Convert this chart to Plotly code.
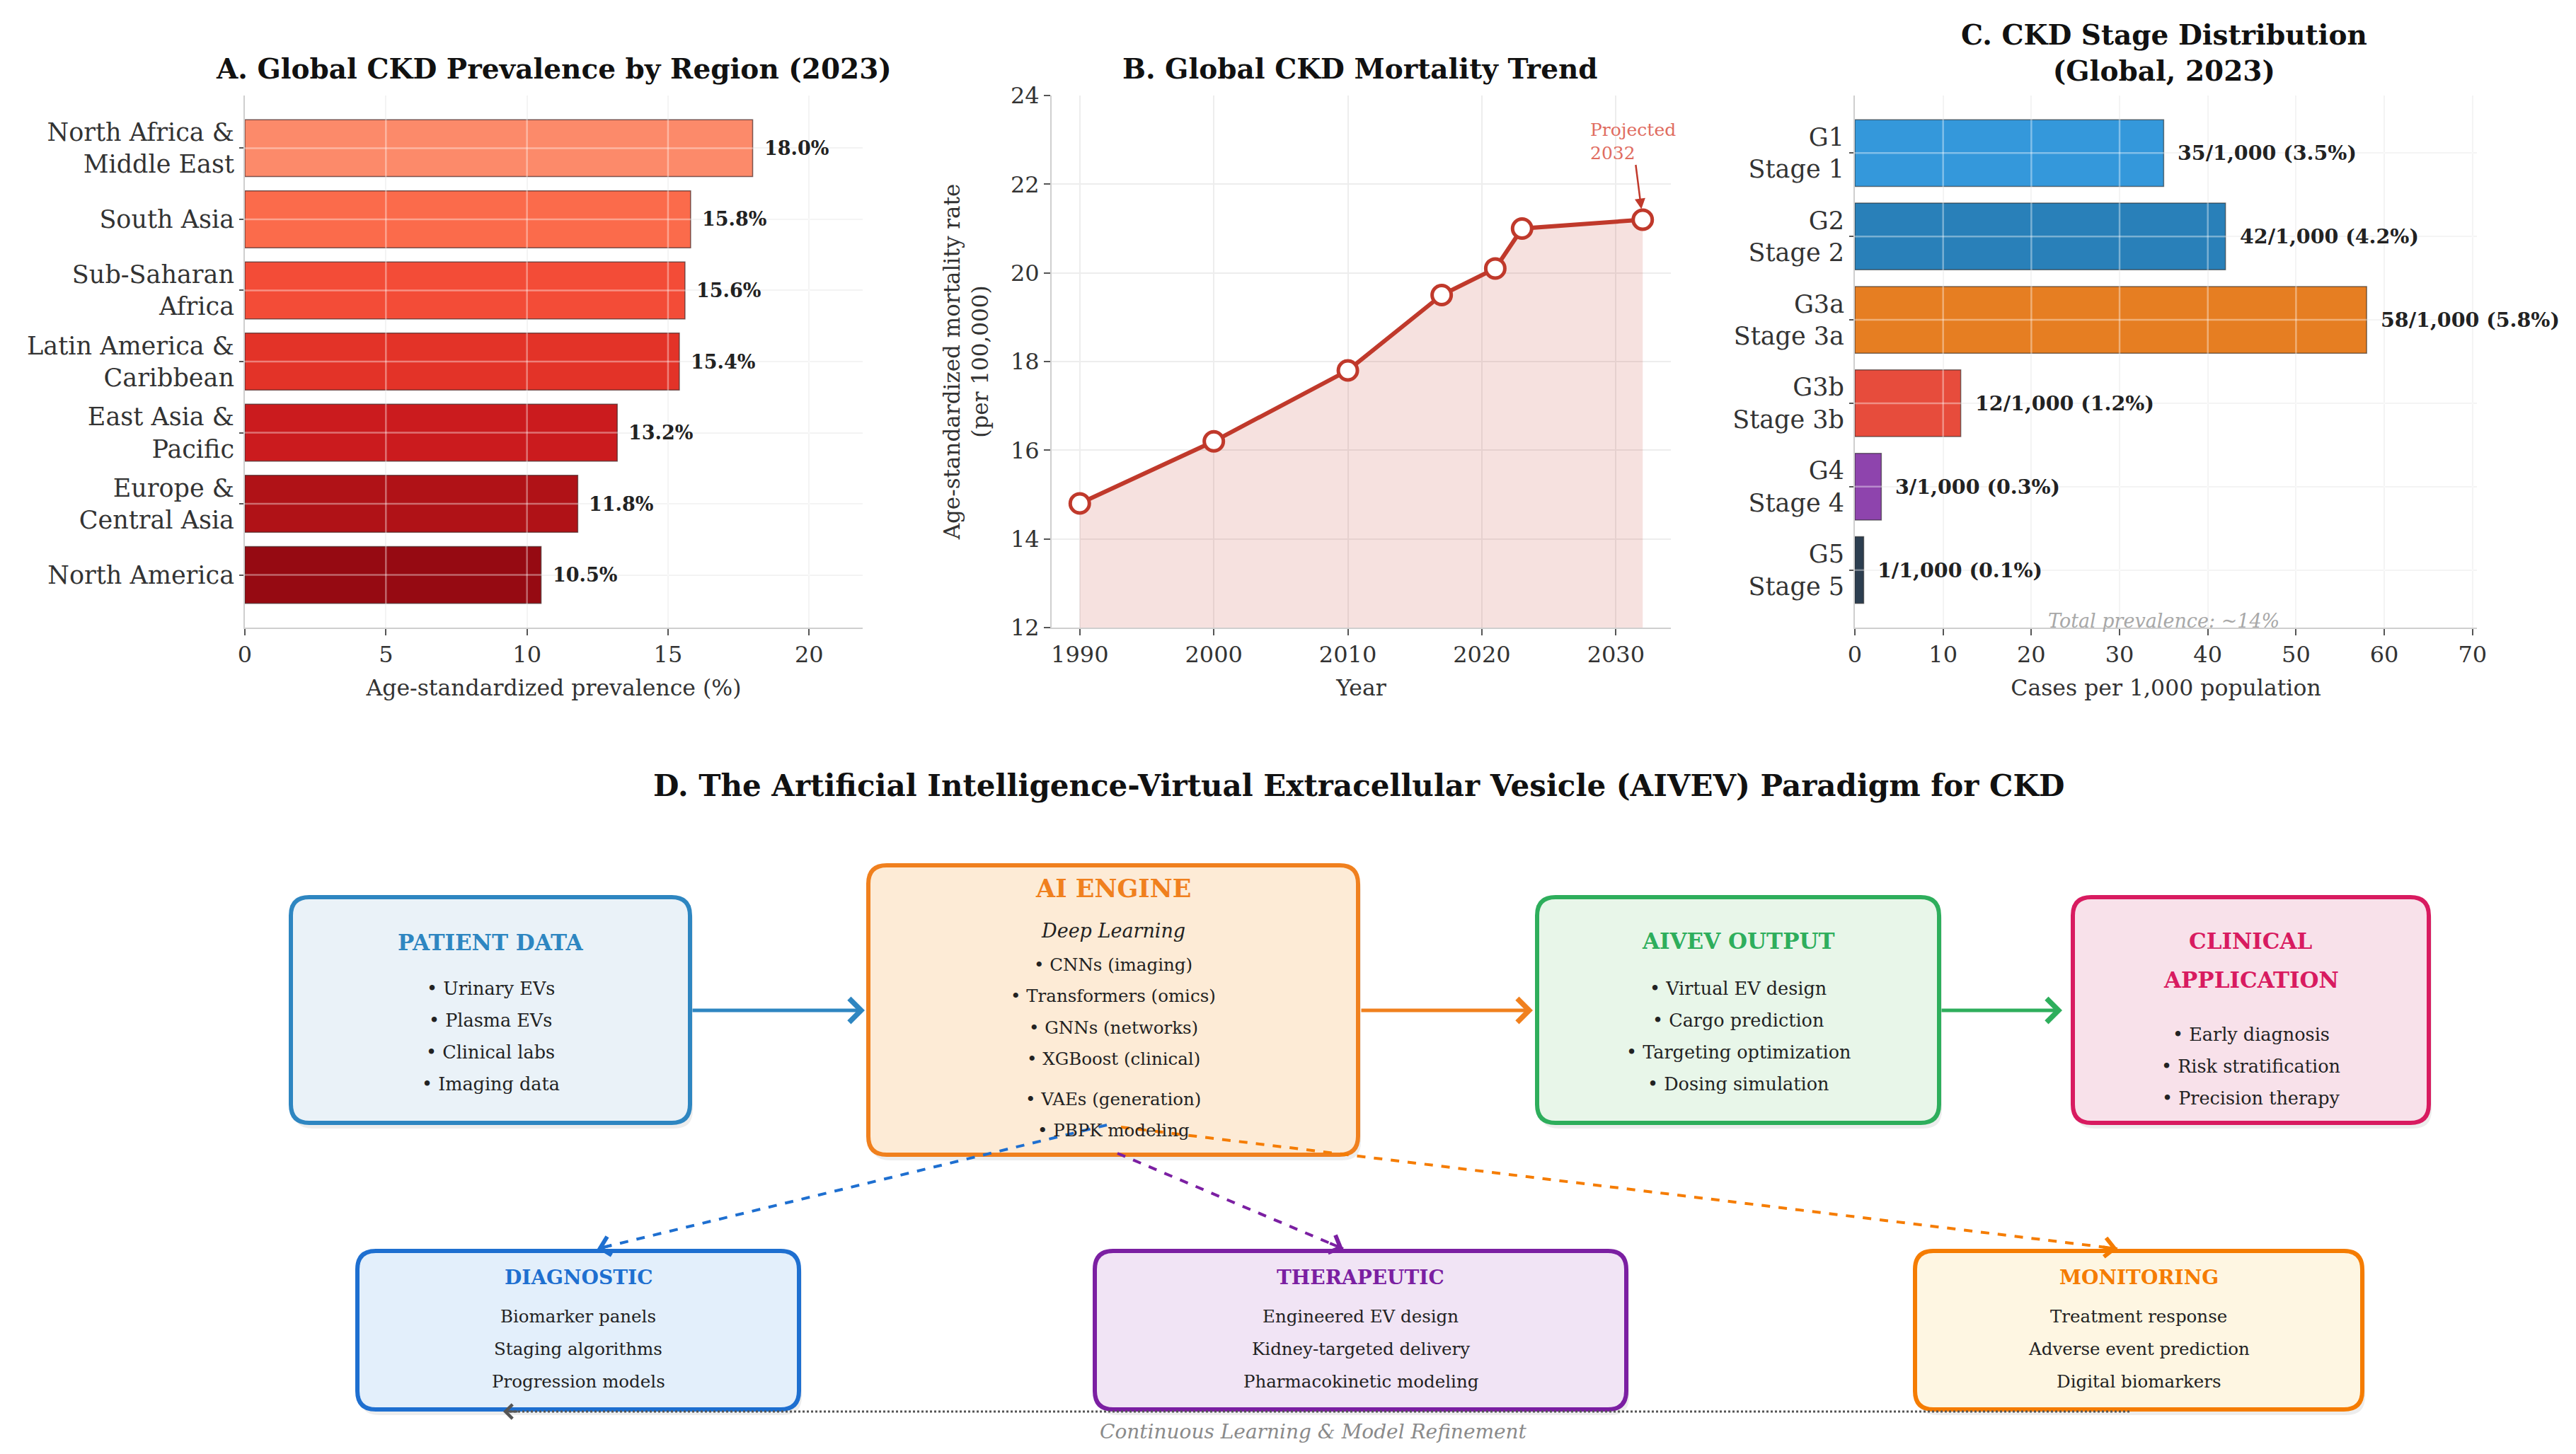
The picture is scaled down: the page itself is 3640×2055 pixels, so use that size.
import plotly.graph_objects as go

W, H = 3640, 2055
OFF = 8  # the page body margin shifts the figure by this many pixels
FONT = "DejaVu Serif"

# ---- Panel A: prevalence by region ----
regions = [
    "North Africa &<br>Middle East",
    "South Asia",
    "Sub-Saharan<br>Africa",
    "Latin America &<br>Caribbean",
    "East Asia &<br>Pacific",
    "Europe &<br>Central Asia",
    "North America",
]
prevalence = [18.0, 15.8, 15.6, 15.4, 13.2, 11.8, 10.5]
region_colors = ["#FC8A6A", "#FB6B4B", "#F34C37", "#E33328", "#CB1B1E", "#B01217", "#960A12"]
prev_ticks = [0, 5, 10, 15, 20]

# ---- Panel B: mortality trend ----
years = [1990, 2000, 2010, 2017, 2021, 2023, 2032]
mortality = [14.8, 16.2, 17.8, 19.5, 20.1, 21.0, 21.2]
year_ticks = [1990, 2000, 2010, 2020, 2030]

# ---- Panel C: stage distribution ----
stages = ["G1<br>Stage 1", "G2<br>Stage 2", "G3a<br>Stage 3a", "G3b<br>Stage 3b", "G4<br>Stage 4", "G5<br>Stage 5"]
stage_cases = [35, 42, 58, 12, 3, 1]
stage_colors = ["#3498DB", "#2980B9", "#E67E22", "#E74C3C", "#8E44AD", "#2C3E50"]
case_ticks = [0, 10, 20, 30, 40, 50, 60, 70]

# ---- Panel D: AIVEV paradigm text ----
flow_titles = ["PATIENT DATA", "AI ENGINE", "AIVEV OUTPUT", "CLINICAL\nAPPLICATION"]
flow_items = [
    ["Urinary EVs", "Plasma EVs", "Clinical labs", "Imaging data"],
    ["CNNs (imaging)", "Transformers (omics)", "GNNs (networks)", "XGBoost (clinical)", "", "VAEs (generation)", "PBPK modeling"],
    ["Virtual EV design", "Cargo prediction", "Targeting optimization", "Dosing simulation"],
    ["Early diagnosis", "Risk stratification", "Precision therapy"],
]
branch_titles = ["DIAGNOSTIC", "THERAPEUTIC", "MONITORING"]
branch_items = [
    ["Biomarker panels", "Staging algorithms", "Progression models"],
    ["Engineered EV design", "Kidney-targeted delivery", "Pharmacokinetic modeling"],
    ["Treatment response", "Adverse event prediction", "Digital biomarkers"],
]

# box geometry in canvas pixels (layout only)
flow_boxes = [
    dict(x0=411, x1=975, y0=1268, y1=1587, fill="#EAF2F8", edge="#2E86C1", title_y=[1332], item_y=1397),
    dict(x0=1227, x1=1919, y0=1223, y1=1632, fill="#FDEBD6", edge="#F0801E", title_y=[1255], item_y=1363),
    dict(x0=2172, x1=2740, y0=1268, y1=1587, fill="#E8F6E9", edge="#2EAE5C", title_y=[1330], item_y=1397),
    dict(x0=2929, x1=3432, y0=1268, y1=1587, fill="#F8E1EA", edge="#D81B60", title_y=[1330, 1385], item_y=1462),
]
branch_boxes = [
    dict(x0=505, x1=1129, y0=1768, y1=1992, fill="#E3EFFB", edge="#1E6FD0"),
    dict(x0=1547, x1=2298, y0=1768, y1=1992, fill="#F1E4F5", edge="#7B1FA2"),
    dict(x0=2706, x1=3338, y0=1768, y1=1992, fill="#FEF6E2", edge="#F57C00"),
]


def px(x):
    return (x - OFF) / W


def py(y):
    return 1 - (y - OFF) / H


def rounded_path(x0, y0, x1, y1, r):
    pts = [
        f"M{px(x0 + r)},{py(y0)}",
        f"L{px(x1 - r)},{py(y0)}",
        f"Q{px(x1)},{py(y0)} {px(x1)},{py(y0 + r)}",
        f"L{px(x1)},{py(y1 - r)}",
        f"Q{px(x1)},{py(y1)} {px(x1 - r)},{py(y1)}",
        f"L{px(x0 + r)},{py(y1)}",
        f"Q{px(x0)},{py(y1)} {px(x0)},{py(y1 - r)}",
        f"L{px(x0)},{py(y0 + r)}",
        f"Q{px(x0)},{py(y0)} {px(x0 + r)},{py(y0)}",
        "Z",
    ]
    return " ".join(pts)


def axis_style(**kw):
    base = dict(
        showline=True, linecolor="#CFCFCF", linewidth=2, automargin=False,
        ticks="outside", ticklen=9, tickwidth=2, tickcolor="#555",
        showgrid=True, gridcolor="#EDEDED", gridwidth=2,
        zeroline=False, layer="above traces",
        tickfont=dict(family=FONT, size=32, color="#333"),
    )
    base.update(kw)
    return base


def text_note(text, x, y, size, color="#222", **kw):
    d = dict(text=text, x=px(x), y=py(y), xref="paper", yref="paper", showarrow=False,
             xanchor="center", yanchor="middle", font=dict(family=FONT, size=size, color=color))
    d.update(kw)
    return d


fig = go.Figure()

# Panel A bars
fig.add_trace(go.Bar(
    x=prevalence, y=regions, orientation="h",
    marker=dict(color=region_colors, line=dict(color="rgba(70,40,40,0.7)", width=1.5)),
    width=0.8, xaxis="x", yaxis="y", showlegend=False,
))

# Panel B line
fig.add_trace(go.Scatter(
    x=years, y=mortality, mode="lines+markers", fill="tozeroy",
    fillcolor="rgba(192,57,43,0.15)",
    line=dict(color="#C0392B", width=6),
    marker=dict(size=27, color="white", line=dict(color="#C0392B", width=5)),
    xaxis="x2", yaxis="y2", showlegend=False,
))

# Panel C bars
fig.add_trace(go.Bar(
    x=stage_cases, y=stages, orientation="h",
    marker=dict(color=stage_colors, line=dict(color="rgba(40,40,40,0.6)", width=1.5)),
    width=0.8, xaxis="x3", yaxis="y3", showlegend=False,
))

annotations = []
shapes = []

# light grid drawn over the bars (as in the reference)
over = dict(color="rgba(255,255,255,0.38)", width=2.5)
for t in prev_ticks[1:]:
    shapes.append(dict(type="line", xref="x", yref="y domain", x0=t, x1=t, y0=0, y1=1, line=over))
for k in range(len(regions)):
    shapes.append(dict(type="line", xref="x domain", yref="y", x0=0, x1=1, y0=k, y1=k, line=over))
for t in case_ticks[1:]:
    shapes.append(dict(type="line", xref="x3", yref="y3 domain", x0=t, x1=t, y0=0, y1=1, line=over))
for k in range(len(stages)):
    shapes.append(dict(type="line", xref="x3 domain", yref="y3", x0=0, x1=1, y0=k, y1=k, line=over))

# panel titles
annotations += [
    text_note("<b>A. Global CKD Prevalence by Region (2023)</b>", 782, 97, 39, "#111"),
    text_note("<b>B. Global CKD Mortality Trend</b>", 1922, 97, 39, "#111"),
    text_note("<b>C. CKD Stage Distribution<br>(Global, 2023)</b>", 3058, 74, 39, "#111"),
    text_note("<b>D. The Artificial Intelligence-Virtual Extracellular Vesicle (AIVEV) Paradigm for CKD</b>",
              1920, 1110, 42, "#111"),
]

# value labels
for v, r in zip(prevalence, regions):
    annotations.append(dict(
        text=f"<b>{v:.1f}%</b>", x=v, y=r, xref="x", yref="y", xanchor="left", yanchor="middle", xshift=14,
        showarrow=False, font=dict(family=FONT, size=27, color="#222"),
    ))
for v, s in zip(stage_cases, stages):
    annotations.append(dict(
        text=f"<b>{v}/1,000 ({v / 10:.1f}%)</b>", x=v, y=s, xref="x3", yref="y3", xanchor="left",
        yanchor="middle", xshift=18, showarrow=False, font=dict(family=FONT, size=28.5, color="#222"),
    ))

annotations.append(dict(
    text="Projected<br>2032", x=years[-1], y=mortality[-1], xref="x2", yref="y2",
    ax=-14, ay=-110, align="left", showarrow=True, arrowhead=2, arrowsize=1.2, arrowwidth=2.5,
    arrowcolor="#C0392B", standoff=15, font=dict(family=FONT, size=25, color="#E06C5F"),
))
annotations.append(dict(
    text="<i>Total prevalence: ~14%</i>", x=35, y=0.012, xref="x3", yref="y3 domain",
    xanchor="center", yanchor="middle", showarrow=False,
    font=dict(family=FONT, size=27, color="#A8A8A8"),
))

# Panel D boxes
for b in flow_boxes + branch_boxes:
    shapes.append(dict(type="path", xref="paper", yref="paper",
                       path=rounded_path(b["x0"] + 4, b["y0"] + 8, b["x1"] + 4, b["y1"] + 8, 26),
                       fillcolor="rgba(0,0,0,0.07)", line=dict(width=0), layer="below"))
    shapes.append(dict(type="path", xref="paper", yref="paper",
                       path=rounded_path(b["x0"], b["y0"], b["x1"], b["y1"], 26),
                       fillcolor=b["fill"], line=dict(color=b["edge"], width=6), layer="below"))

for i, (b, title, items) in enumerate(zip(flow_boxes, flow_titles, flow_items)):
    cx = (b["x0"] + b["x1"]) / 2
    tsize = 35 if i == 1 else 31
    for line, ty in zip(title.split("\n"), b["title_y"]):
        annotations.append(text_note(f"<b>{line}</b>", cx, ty, tsize, b["edge"]))
    if i == 1:
        annotations.append(text_note("<i>Deep Learning</i>", cx, 1315, 27))
    iy = b["item_y"]
    step = 44.5 if i == 1 else 45
    for item in items:
        if item == "":
            iy += 12
            continue
        annotations.append(text_note(f"• {item}", cx, iy, 24.5 if i == 1 else 25.5))
        iy += step

for b, title, items in zip(branch_boxes, branch_titles, branch_items):
    cx = (b["x0"] + b["x1"]) / 2
    annotations.append(text_note(f"<b>{title}</b>", cx, 1805, 28, b["edge"]))
    for k, item in enumerate(items):
        annotations.append(text_note(item, cx, 1860 + 46 * k, 24.5))

# solid flow arrows
flow_arrows = [((977, 1428), (1222, 1428), "#2E86C1"),
               ((1922, 1428), (2166, 1428), "#F0801E"),
               ((2742, 1428), (2914, 1428), "#2EAE5C")]
for (tx, ty), (hx, hy), c in flow_arrows:
    annotations.append(dict(x=px(hx), y=py(hy), xref="paper", yref="paper", ax=tx - hx, ay=ty - hy,
                            text="", showarrow=True, arrowhead=4, arrowsize=1.3, arrowwidth=5,
                            arrowcolor=c, standoff=0))

# dashed branch arrows and the feedback loop
branch_arrows = [((1564, 1590), (844, 1765), "#1E6FD0", "dash"),
                 ((1579, 1630), (1898, 1765), "#7B1FA2", "dash"),
                 ((1584, 1593), (2992, 1765), "#F57C00", "dash"),
                 ((3009, 1995), (711, 1995), "#555555", "dot")]
for (tx, ty), (hx, hy), c, d in branch_arrows:
    shapes.append(dict(type="line", xref="paper", yref="paper", x0=px(tx), y0=py(ty), x1=px(hx), y1=py(hy),
                       line=dict(color=c, width=4 if d == "dash" else 3, dash=d)))
    dx, dy = tx - hx, ty - hy
    n = (dx * dx + dy * dy) ** 0.5
    annotations.append(dict(x=px(hx), y=py(hy), xref="paper", yref="paper", ax=dx / n * 22, ay=dy / n * 22,
                            text="", showarrow=True, arrowhead=4, arrowsize=1.3,
                            arrowwidth=4 if d == "dash" else 3, arrowcolor=c, standoff=0))

annotations.append(text_note("<i>Continuous Learning & Model Refinement</i>", 1856, 2023, 28, "#8A8A8A"))

ytop, ybot = py(135), py(887)
axis_title_font = dict(family=FONT, size=31.5, color="#333")

fig.update_layout(
    width=W, height=H, margin=dict(l=0, r=0, t=0, b=0, autoexpand=False),
    paper_bgcolor="white", plot_bgcolor="white",
    font=dict(family=FONT), showlegend=False,
    xaxis=axis_style(domain=[px(346), px(1219)], range=[0, 21.9], tickvals=prev_ticks,
                     anchor="y", title=dict(text="Age-standardized prevalence (%)", font=axis_title_font,
                                            standoff=18)),
    yaxis=axis_style(domain=[ybot, ytop], range=[6.74, -0.74], anchor="x", ticklen=6,
                     tickfont=dict(family=FONT, size=35, color="#333")),
    xaxis2=axis_style(domain=[px(1486), px(2361)], range=[1987.9, 2034.1], tickvals=year_ticks,
                      anchor="y2", title=dict(text="Year", font=axis_title_font, standoff=18)),
    yaxis2=axis_style(domain=[ybot, ytop], range=[12, 24], dtick=2, anchor="x2",
                      title=dict(text="Age-standardized mortality rate<br>(per 100,000)",
                                 font=dict(family=FONT, size=31, color="#333"), standoff=22)),
    xaxis3=axis_style(domain=[px(2621), px(3500)], range=[0, 70.5], tickvals=case_ticks, anchor="y3",
                      title=dict(text="Cases per 1,000 population", font=axis_title_font, standoff=18)),
    yaxis3=axis_style(domain=[ybot, ytop], range=[5.69, -0.69], anchor="x3", ticklen=6,
                      tickfont=dict(family=FONT, size=35, color="#333")),
    bargap=0.2,
    shapes=shapes,
    annotations=annotations,
)

fig.write_html("out.html")
